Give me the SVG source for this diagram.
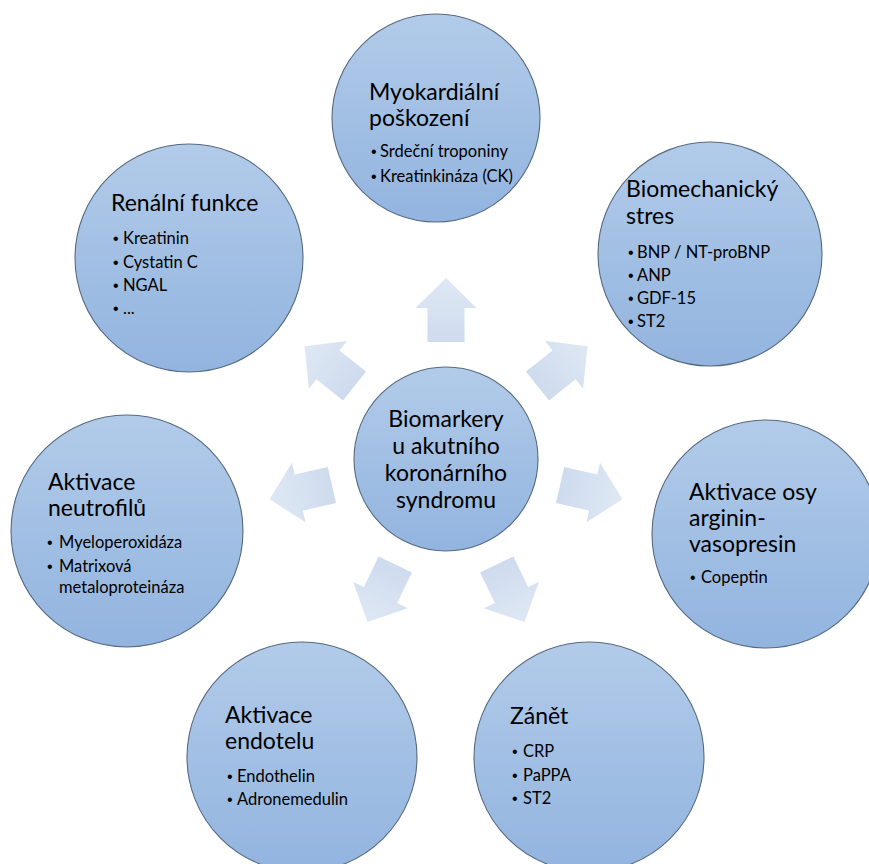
<svg xmlns="http://www.w3.org/2000/svg" width="869" height="864" viewBox="0 0 869 864">
<defs>
<linearGradient id="gCircle" x1="0" y1="0" x2="0" y2="1">
<stop offset="0" stop-color="#b2cbe9"/>
<stop offset="1" stop-color="#92b4df"/>
</linearGradient>
<linearGradient id="gArrow" x1="1" y1="0" x2="0" y2="0">
<stop offset="0" stop-color="#dfe8f4"/>
<stop offset="1" stop-color="#cedbee"/>
</linearGradient>
<path id="arrow" d="M563 440.5 L597 440.5 L597 428.5 L627 459 L597 489.5 L597 477.5 L563 477.5 Z"/>
</defs>
<style>
.c{fill:url(#gCircle);stroke:#56697f;stroke-width:1.1}
.a{fill:url(#gArrow)}
.t{font-family:Lato,"Liberation Sans",sans-serif;font-size:23px;fill:#000}
.b{font-family:Lato,"Liberation Sans",sans-serif;font-size:16.5px;fill:#000}
.d{font-family:"Liberation Sans",sans-serif;font-size:16px;fill:#000}
</style>
<rect width="869" height="864" fill="#fff"/>
<g id="connectors">
<use href="#arrow" class="a" transform="rotate(-90 446 459)"/>
<use href="#arrow" class="a" transform="rotate(-38.57 446 459)"/>
<use href="#arrow" class="a" transform="rotate(12.86 446 459)"/>
<use href="#arrow" class="a" transform="rotate(64.29 446 459)"/>
<use href="#arrow" class="a" transform="rotate(115.71 446 459)"/>
<use href="#arrow" class="a" transform="rotate(167.14 446 459)"/>
<use href="#arrow" class="a" transform="rotate(218.57 446 459)"/>
</g>
<g id="center">
<circle class="c" cx="446" cy="459" r="92"/>
<text class="t" text-anchor="middle" x="446" y="427">Biomarkery</text>
<text class="t" text-anchor="middle" x="446" y="454">u akutního</text>
<text class="t" text-anchor="middle" x="446" y="481">koronárního</text>
<text class="t" text-anchor="middle" x="446" y="508">syndromu</text>
</g>
<g id="myokard">
<circle class="c" cx="436" cy="118" r="104"/>
<text class="t" x="369" y="100">Myokardiální</text>
<text class="t" x="369" y="126">poškození</text>
<text class="d" x="371" y="157">•</text><text class="b" x="380" y="157">Srdeční troponiny</text>
<text class="d" x="371" y="182">•</text><text class="b" x="380" y="182">Kreatinkináza (CK)</text>
</g>
<g id="biomech">
<circle class="c" cx="710" cy="254" r="112"/>
<text class="t" x="626" y="197">Biomechanický</text>
<text class="t" x="626" y="224">stres</text>
<text class="d" x="628" y="258">•</text><text class="b" x="637" y="258">BNP / NT-proBNP</text>
<text class="d" x="628" y="281">•</text><text class="b" x="637" y="281">ANP</text>
<text class="d" x="628" y="304">•</text><text class="b" x="637" y="304">GDF-15</text>
<text class="d" x="628" y="327">•</text><text class="b" x="637" y="327">ST2</text>
</g>
<g id="avp">
<circle class="c" cx="766" cy="534" r="114"/>
<text class="t" x="689" y="500">Aktivace osy</text>
<text class="t" x="689" y="526">arginin-</text>
<text class="t" x="689" y="552">vasopresin</text>
<text class="d" x="690" y="583">•</text><text class="b" x="701" y="583">Copeptin</text>
</g>
<g id="zanet">
<circle class="c" cx="589" cy="757" r="115"/>
<text class="t" x="510" y="724">Zánět</text>
<text class="d" x="512" y="757">•</text><text class="b" x="523" y="757">CRP</text>
<text class="d" x="512" y="781">•</text><text class="b" x="523" y="781">PaPPA</text>
<text class="d" x="512" y="804">•</text><text class="b" x="523" y="804">ST2</text>
</g>
<g id="endotel">
<circle class="c" cx="302" cy="757" r="115"/>
<text class="t" x="225" y="723">Aktivace</text>
<text class="t" x="225" y="749">endotelu</text>
<text class="d" x="227" y="782">•</text><text class="b" x="237" y="782">Endothelin</text>
<text class="d" x="227" y="805">•</text><text class="b" x="237" y="805">Adronemedulin</text>
</g>
<g id="neutrofil">
<circle class="c" cx="127" cy="531" r="116"/>
<text class="t" x="48" y="490">Aktivace</text>
<text class="t" x="48" y="516">neutrofilů</text>
<text class="d" x="47" y="548">•</text><text class="b" x="59" y="548">Myeloperoxidáza</text>
<text class="d" x="47" y="572">•</text><text class="b" x="59" y="572">Matrixová</text>
<text class="b" x="59" y="593">metaloproteináza</text>
</g>
<g id="renal">
<circle class="c" cx="189" cy="258" r="114"/>
<text class="t" x="111" y="211">Renální funkce</text>
<text class="d" x="113" y="244">•</text><text class="b" x="123" y="244">Kreatinin</text>
<text class="d" x="113" y="268">•</text><text class="b" x="123" y="268">Cystatin C</text>
<text class="d" x="113" y="291">•</text><text class="b" x="123" y="291">NGAL</text>
<text class="d" x="113" y="314">•</text><text class="b" x="123" y="314">...</text>
</g>
</svg>
